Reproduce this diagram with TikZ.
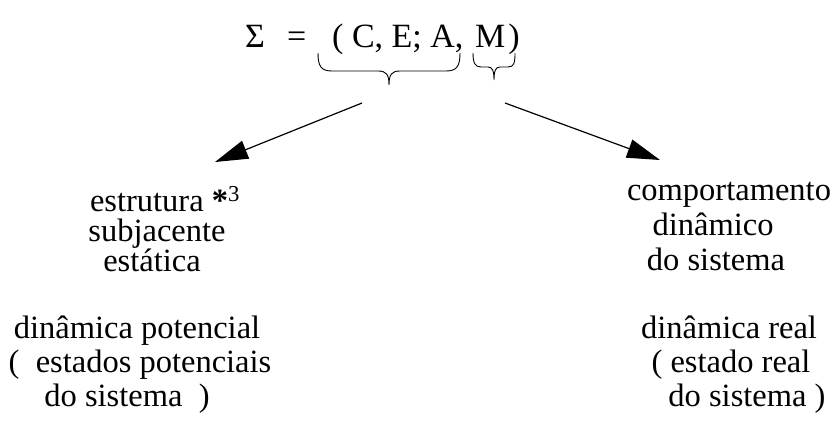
\documentclass[tikz,border=0pt]{standalone}
\usepackage{fontspec}
\setmainfont{Liberation Serif}
\usepackage{tikz}
\usetikzlibrary{arrows.meta}
\tikzset{
  txt/.style={font=\fontsize{32.5}{35}\selectfont, inner sep=0pt, anchor=base},
  head/.style={font=\fontsize{34}{38}\selectfont, inner sep=0pt, anchor=base west},
  brc/.style={line width=0.9pt},
  arrow/.style={-{Triangle[length=33pt, width=19pt]}, line width=1.2pt},
}

\begin{document}
\begin{tikzpicture}[x=1pt, y=-1pt]
      \useasboundingbox (0,0) rectangle (833,432);
      % top formula
      \node[head] (sigma) at (245,47) {Σ};
      \node[head] (eq) at (287,47) {=};
      \node[head] (tup) at (332,47) {( C, E; A,};
      \node[head] (m) at (475,47) {M\kern3pt)};
      % braces under the tuple
      \draw[brc] (318,53) .. controls (318,66) and (321,71) .. (332,71) -- (378,71)
            .. controls (386,71) and (389,74) .. (389,85)
            .. controls (389,74) and (392,71) .. (400,71) -- (446,71)
            .. controls (457,71) and (460,66) .. (460,53);
      \draw[brc] (473,53) .. controls (473,63) and (475,67) .. (481,67) -- (488,67)
            .. controls (492,67) and (494,70) .. (494,80)
            .. controls (494,70) and (496,67) .. (500,67) -- (508,67)
            .. controls (514,67) and (515,63) .. (515,53);
      % arrows
      \coordinate (fromL) at (362,103);
      \coordinate (toL) at (215,162);
      \coordinate (fromR) at (505,103);
      \coordinate (toR) at (660,160);
      \draw[arrow] (fromL) -- (toL);
      \draw[arrow] (fromR) -- (toR);
      % left column
      \node[txt] (l1) at (165,211) {estrutura \textbf{*}\textsuperscript{3}};
      \node[txt] (l2) at (157,241) {subjacente};
      \node[txt] (l3) at (152,271) {estática};
      \node[txt] (l4) at (137,338) {dinâmica potencial};
      \node[txt] (l5) at (140,372) {(~ estados potenciais};
      \node[txt] (l6) at (127,406) {do sistema ~)};
      % right column
      \node[txt] (r1) at (729,200) {comportamento};
      \node[txt] (r2) at (713,235) {dinâmico};
      \node[txt] (r3) at (716,270) {do sistema};
      \node[txt] (r4) at (729,338) {dinâmica real};
      \node[txt] (r5) at (731,372) {( estado real};
      \node[txt] (r6) at (747,406) {do sistema )};
\end{tikzpicture}
\end{document}
